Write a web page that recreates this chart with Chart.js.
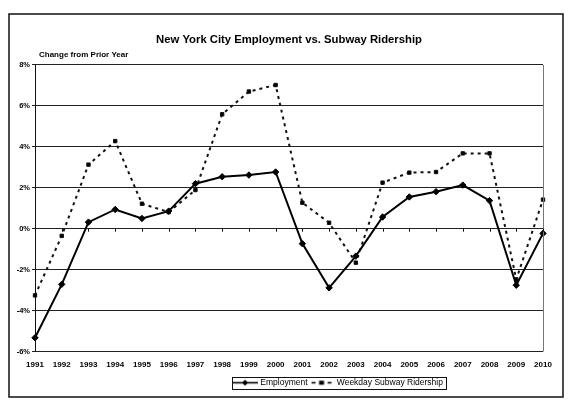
<!DOCTYPE html>
<html>
<head>
<meta charset="utf-8">
<script src="https://cdn.jsdelivr.net/npm/chart.js@4"></script>
<style>
  html, body { margin: 0; padding: 0; background: #fff; }
  #c { display: block; }
</style>
</head>
<body>
<canvas id="c" width="575" height="414"></canvas>
<script>
const years = ['1991','1992','1993','1994','1995','1996','1997','1998','1999','2000',
               '2001','2002','2003','2004','2005','2006','2007','2008','2009','2010'];
const employment = [-5.33, -2.72, 0.32, 0.94, 0.50, 0.86, 2.20, 2.54, 2.62, 2.77,
                    -0.73, -2.89, -1.34, 0.57, 1.55, 1.81, 2.13, 1.37, -2.76, -0.23];
const ridership  = [-3.26, -0.35, 3.13, 4.28, 1.22, 0.81, 1.89, 5.59, 6.70, 7.02,
                    1.27, 0.29, -1.66, 2.25, 2.74, 2.77, 3.68, 3.68, -2.48, 1.42];
const seriesNames = ['Employment', 'Weekday Subway Ridership'];
const titleText = 'New York City Employment vs. Subway Ridership';
const axisNote = 'Change from Prior Year';
const yMin = -6, yMax = 8, yStep = 2;

const FONT = "'Liberation Sans', Arial, sans-serif";

// legend symbols (line + marker)
function makeSymbol(dashed) {
  const cv = document.createElement('canvas');
  cv.width = 26; cv.height = 9;
  const g = cv.getContext('2d');
  g.strokeStyle = '#000'; g.fillStyle = '#000'; g.lineWidth = 1.6;
  if (dashed) {
    g.beginPath(); g.moveTo(3, 4.5); g.lineTo(7, 4.5); g.stroke();
    g.beginPath(); g.moveTo(19, 4.5); g.lineTo(23, 4.5); g.stroke();
    g.fillRect(10.5, 2.5, 5, 4);
  } else {
    g.beginPath(); g.moveTo(0, 4.5); g.lineTo(26, 4.5); g.stroke();
    g.beginPath(); g.moveTo(13, 1.5); g.lineTo(16, 4.5); g.lineTo(13, 7.5); g.lineTo(10, 4.5); g.closePath(); g.fill();
  }
  return cv;
}
const symbols = [makeSymbol(false), makeSymbol(true)];

const decor = {
  id: 'decor',
  afterLayout(chart) {
    const l = chart.legend;
    const dx = 67;
    l.left += dx; l.right += dx;
  },
  beforeDraw(chart) {
    const ctx = chart.ctx;
    ctx.save();
    ctx.fillStyle = '#fff';
    ctx.fillRect(0, 0, chart.width, chart.height);
    ctx.strokeStyle = '#111';
    ctx.lineWidth = 1.5;
    ctx.strokeRect(9, 14, 554, 383);
    ctx.restore();
  },
  afterDraw(chart) {
    const ctx = chart.ctx;
    const a = chart.chartArea;
    const xs = chart.scales.x, ys = chart.scales.y;
    ctx.save();
    // right edge of plot
    ctx.strokeStyle = '#777'; ctx.lineWidth = 1;
    ctx.beginPath(); ctx.moveTo(a.right + 0.5, a.top); ctx.lineTo(a.right + 0.5, a.bottom); ctx.stroke();
    // category ticks on 0% axis
    const y0 = ys.getPixelForValue(0);
    ctx.strokeStyle = '#111';
    ctx.beginPath();
    years.forEach((_, i) => {
      const x = Math.round(xs.getPixelForValue(i)) + 0.5;
      ctx.moveTo(x, y0); ctx.lineTo(x, y0 + 3);
    });
    ctx.stroke();
    // note above plot
    ctx.fillStyle = '#000';
    ctx.font = 'bold 8px ' + FONT;
    ctx.textBaseline = 'middle';
    ctx.textAlign = 'left';
    ctx.fillText(axisNote, a.left + 4, a.top - 10);
    // legend border
    const hb = chart.legend.legendHitBoxes;
    if (hb && hb.length) {
      const left = Math.min(...hb.map(h => h.left)) - 2;
      const right = Math.max(...hb.map(h => h.left + h.width)) + 3;
      const top = Math.min(...hb.map(h => h.top)) - 1.5;
      const bot = Math.max(...hb.map(h => h.top + h.height)) + 1.5;
      ctx.strokeStyle = '#111'; ctx.lineWidth = 1;
      ctx.strokeRect(Math.round(left) + 0.5, Math.round(top) + 0.5, Math.round(right - left), Math.round(bot - top));
    }
    ctx.restore();
  }
};

new Chart(document.getElementById('c'), {
  type: 'line',
  data: {
    labels: years,
    datasets: [
      {
        label: seriesNames[0],
        data: employment,
        borderColor: '#000',
        backgroundColor: '#000',
        borderWidth: 2,
        pointStyle: 'rectRot',
        pointRadius: 3.2,
        pointBorderWidth: 1,
        tension: 0,
        order: 1
      },
      {
        label: seriesNames[1],
        data: ridership,
        borderColor: '#111',
        backgroundColor: '#000',
        borderWidth: 2,
        borderDash: [3, 4],
        pointStyle: 'rect',
        pointRadius: 2.4,
        pointBorderWidth: 1,
        tension: 0,
        order: 2
      }
    ]
  },
  options: {
    responsive: false,
    animation: false,
    devicePixelRatio: 1,
    layout: { padding: { left: 0, right: 32, top: 0, bottom: 17 } },
    scales: {
      x: {
        offset: false,
        grid: { display: false, drawTicks: false },
        border: { display: false },
        ticks: {
          color: '#000',
          font: { family: FONT, size: 8, weight: 'bold' },
          padding: 8,
          maxRotation: 0,
          autoSkip: false
        },
        afterFit(s) { s.height = 24; }
      },
      y: {
        min: yMin, max: yMax,
        grid: { color: '#222', lineWidth: 1, tickLength: 3 },
        border: { display: true, color: '#111', width: 1 },
        ticks: {
          stepSize: yStep,
          color: '#000',
          padding: 2,
          font: { family: FONT, size: 7.5, weight: 'bold' },
          callback: v => v + '%'
        },
        afterFit(s) { s.width = 35; }
      }
    },
    plugins: {
      title: {
        display: true,
        text: titleText,
        color: '#000',
        fullSize: false,
        font: { family: FONT, size: 11.3, weight: 'bold' },
        padding: { top: 33.2, bottom: 18.2 }
      },
      legend: {
        display: true,
        position: 'bottom',
        labels: {
          usePointStyle: true,
          pointStyleWidth: 22,
          padding: 3,
          color: '#000',
          font: { family: FONT, size: 8.5 },
          generateLabels(chart) {
            const items = Chart.defaults.plugins.legend.labels.generateLabels(chart);
            items.forEach((it, i) => { it.pointStyle = symbols[i]; });
            return items;
          }
        }
      },
      tooltip: { enabled: false }
    }
  },
  plugins: [decor]
});
</script>
</body>
</html>
